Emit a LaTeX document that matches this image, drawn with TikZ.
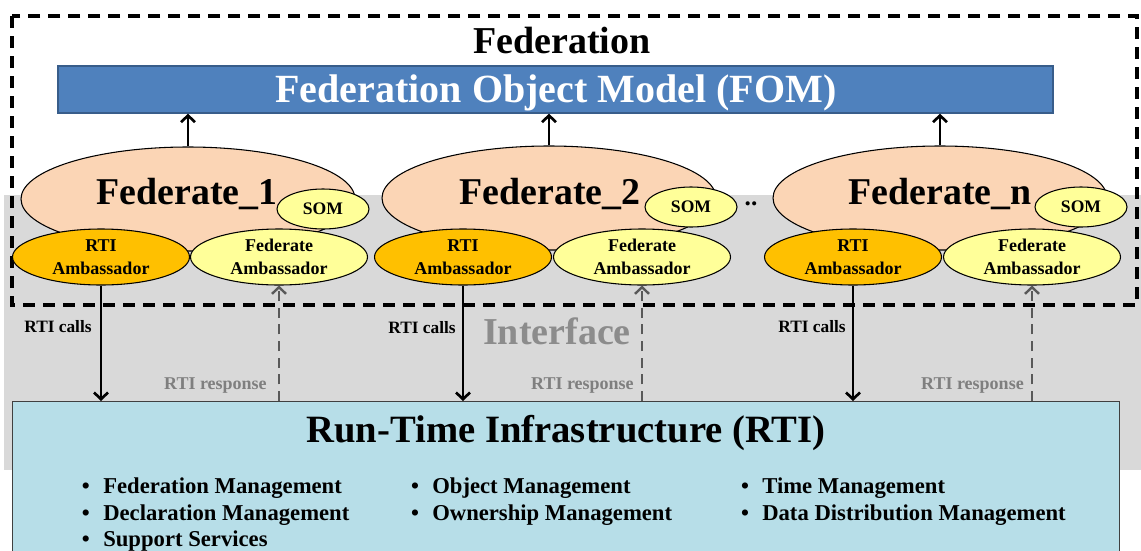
\documentclass[tikz,border=0pt]{standalone}
\usepackage{fontspec}
\setmainfont{Liberation Serif}
\usetikzlibrary{arrows.meta,shapes.geometric}

\definecolor{ifaceGray}{HTML}{D9D9D9}
\definecolor{fomBlue}{HTML}{4F81BD}
\definecolor{fomEdge}{HTML}{385D8A}
\definecolor{fedPeach}{HTML}{FBD5B5}
\definecolor{rtiOrange}{HTML}{FFC000}
\definecolor{ambYellow}{HTML}{FFFF99}
\definecolor{rtiCyan}{HTML}{B7DEE8}
\definecolor{respGray}{HTML}{595959}
\definecolor{labelGray}{HTML}{7F7F7F}
\definecolor{titleGray}{HTML}{8C8C8C}

\tikzset{
  fedell/.style={ellipse, draw=black, line width=0.8pt, fill=fedPeach,
    minimum width=250.5pt, minimum height=78pt, inner sep=0pt},
  rtiamb/.style={ellipse, draw=black, line width=0.8pt, fill=rtiOrange,
    minimum width=132.75pt, minimum height=42pt, inner sep=0pt},
  fedamb/.style={ellipse, draw=black, line width=0.8pt, fill=ambYellow,
    minimum width=132.75pt, minimum height=42pt, inner sep=0pt},
  somell/.style={ellipse, draw=black, line width=0.8pt, fill=ambYellow,
    minimum width=69pt, minimum height=30pt, inner sep=0pt,
    font=\bfseries\fontsize{13.2}{15}\selectfont},
  fedtext/.style={inner sep=0pt, font=\bfseries\fontsize{28.4}{32}\selectfont},
  ambtext/.style={inner sep=0pt, align=center,
    font=\bfseries\fontsize{13.5}{17.25}\selectfont},
  upflow/.style={line width=2pt, -{Straight Barb[length=5pt,width=10.5pt]}},
  callflow/.style={line width=2pt, -{Straight Barb[length=5pt,width=10.5pt]}},
  respflow/.style={line width=1.8pt, draw=respGray, dash pattern=on 7.5pt off 5pt,
    -{Straight Barb[length=5pt,width=10.5pt]}},
  calltext/.style={inner sep=0pt, font=\bfseries\fontsize{13}{15}\selectfont},
  resptext/.style={inner sep=0pt, text=labelGray, anchor=east,
    font=\bfseries\fontsize{13.5}{15}\selectfont},
  itemtext/.style={inner sep=0pt, anchor=west,
    font=\bfseries\fontsize{17}{20}\selectfont},
}

\newcommand{\bul}[1]{\llap{\textbullet\hspace{10pt}}#1}

\begin{document}
\begin{tikzpicture}[x=0.75pt, y=-0.75pt]
\useasboundingbox (0,0) rectangle (1141,550);
\clip (0,0) rectangle (1141,550);

% interface band
\fill[ifaceGray] (4,195) rectangle (1141,470);
\node[inner sep=0pt, text=titleGray, font=\bfseries\fontsize{28.5}{32}\selectfont]
  (iface) at (557,331) {Interface};

% federation frame
\draw[line width=2.5pt, dash pattern=on 9pt off 6pt] (12,16) rectangle (1137,305);
\node[inner sep=0pt, font=\bfseries\fontsize{28.5}{32}\selectfont] (fedtitle) at (562,41) {Federation};

% object model bar
\node[draw=fomEdge, line width=1pt, fill=fomBlue, minimum width=746.25pt,
  minimum height=35.25pt, inner sep=0pt] (fom) at (555.5,89.5) {};
\node[inner sep=0pt, text=white, font=\bfseries\fontsize{30}{34}\selectfont]
  (fomtext) at (556,93) {Federation Object Model (FOM)};

% federates
\node[fedell] (f1) at (188,199) {};
\node[fedell] (f2) at (549,198) {};
\node[fedell] (fn) at (940,198) {};
\node[fedtext] (f1t) at (187,194) {Federate\_1};
\node[fedtext] (f2t) at (550,194) {Federate\_2};
\node[fedtext] (fnt) at (940,194) {Federate\_n};

\node[somell] (s1) at (323,209) {SOM};
\node[somell] (s2) at (691,207) {SOM};
\node[somell] (sn) at (1081,207) {SOM};
\node[inner sep=0pt, font=\bfseries\fontsize{19}{20}\selectfont] (dots) at (751,204) {..};

\node[rtiamb] (ra1) at (101,257) {};
\node[rtiamb] (ra2) at (463,257) {};
\node[rtiamb] (ran) at (853,257) {};
\node[fedamb] (fa1) at (279,257) {};
\node[fedamb] (fa2) at (642,257) {};
\node[fedamb] (fan) at (1032,257) {};
\node[ambtext] (ra1t) at (101,257) {RTI\\Ambassador};
\node[ambtext] (ra2t) at (463,257) {RTI\\Ambassador};
\node[ambtext] (rant) at (853,257) {RTI\\Ambassador};
\node[ambtext] (fa1t) at (279,257) {Federate\\Ambassador};
\node[ambtext] (fa2t) at (642,257) {Federate\\Ambassador};
\node[ambtext] (fant) at (1032,257) {Federate\\Ambassador};

% federates publish to the object model
\draw[upflow] (f1.north) -- (f1.north |- fom.south);
\draw[upflow] (f2.north) -- (f2.north |- fom.south);
\draw[upflow] (fn.north) -- (fn.north |- fom.south);

% run-time infrastructure
\node[draw=black!75, line width=0.8pt, fill=rtiCyan, minimum width=830.25pt,
  minimum height=150pt, inner sep=0pt, anchor=north west] (rti) at (12,401) {};
\node[inner sep=0pt, font=\bfseries\fontsize{29}{33}\selectfont] (rtititle) at (566,433)
  {Run-Time Infrastructure (RTI)};

\node[itemtext] (i1) at (103,488) {\bul{Federation Management}};
\node[itemtext] (i2) at (103,515) {\bul{Declaration Management}};
\node[itemtext] (i3) at (103,541) {\bul{Support Services}};
\node[itemtext] (i4) at (432,488) {\bul{Object Management}};
\node[itemtext] (i5) at (432,515) {\bul{Ownership Management}};
\node[itemtext] (i6) at (762,488) {\bul{Time Management}};
\node[itemtext] (i7) at (762,515) {\bul{Data Distribution Management}};

% calls and responses
\draw[callflow] (ra1.south) -- (ra1.south |- rti.north);
\draw[callflow] (ra2.south) -- (ra2.south |- rti.north);
\draw[callflow] (ran.south) -- (ran.south |- rti.north);
\draw[respflow] (fa1.south |- rti.north) -- (fa1.south);
\draw[respflow] (fa2.south |- rti.north) -- (fa2.south);
\draw[respflow] (fan.south |- rti.north) -- (fan.south);

\node[calltext] (c1) at (58,327) {RTI calls};
\node[calltext] (c2) at (422,328) {RTI calls};
\node[calltext] (c3) at (812,327) {RTI calls};
\node[resptext] (r1) at (267,386) {RTI response};
\node[resptext] (r2) at (634,386) {RTI response};
\node[resptext] (r3) at (1024,386) {RTI response};
\end{tikzpicture}
\end{document}
